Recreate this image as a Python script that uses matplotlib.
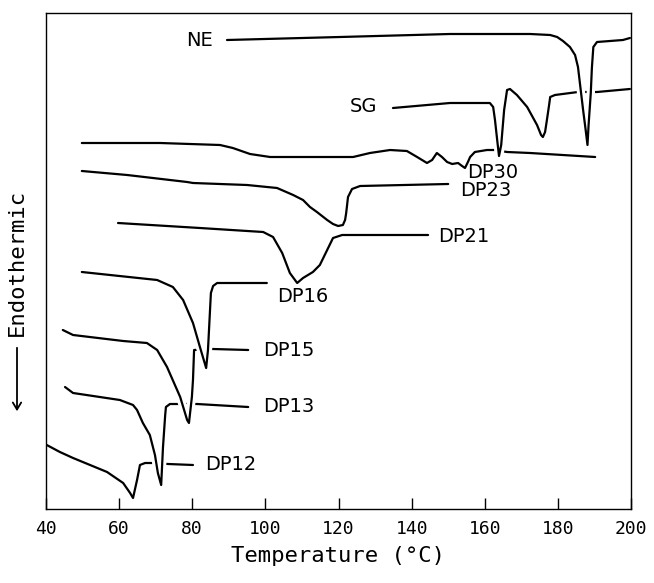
import matplotlib
matplotlib.use("Agg")
import matplotlib.pyplot as plt
import matplotlib.patheffects as pe

# DSC traces: temperature (C) and signal (arb. units, down = endothermic)
ne_t = [89.5, 120.4, 150.5, 172.4, 177.9, 179.8, 181.4, 183.3, 184.7, 185.5, 186.9, 187.6, 188.1,
        188.4, 189.0, 189.3, 189.7, 190.7, 197.8, 199.7]
ne_y = [469, 472, 475, 475, 474, 472, 468, 462, 454, 442, 399, 379, 364,
        384, 416, 441, 462, 467, 469, 471]

sg_t = [134.9, 150.5, 161.4, 162.3, 162.8, 163.4, 163.9, 164.5, 165.3, 166.1, 166.9, 168.8, 171.6,
        174.3, 175.4, 175.9, 176.5, 177.0, 177.6, 177.9, 179.2, 185.5, 190.7, 199.7]
sg_y = [401, 406, 406, 402, 389, 369, 353, 364, 399, 419, 420, 414, 402,
        384, 374, 372, 377, 389, 404, 412, 414, 417, 417, 420]

dp30_t = [49.8, 71.2, 87.6, 91.1, 95.8, 101.3, 117.7, 124.0, 128.6, 134.1, 138.7, 141.5, 144.2,
          145.6, 146.9, 148.3, 149.7, 151.1, 152.7, 153.8, 154.6, 155.4, 156.0, 157.3, 160.6,
          162.8, 166.1, 172.4, 190.2]
dp30_y = [366, 366, 364, 361, 355, 352, 352, 352, 356, 359, 358, 352, 346,
          349, 356, 352, 347, 345, 346, 343, 341, 347, 352, 357, 359,
          359, 357, 356, 352]

dp23_t = [49.8, 62.2, 78.6, 80.2, 95.0, 103.2, 107.6, 110.3, 112.2, 114.1, 116.9, 118.5, 119.9,
          121.2, 121.8, 122.1, 122.6, 123.7, 125.9, 150.0]
dp23_y = [338, 334, 327, 326, 324, 321, 314, 309, 302, 297, 289, 285, 283,
          284, 289, 296, 312, 320, 323, 325]

dp21_t = [59.7, 82.1, 99.4, 102.1, 104.6, 106.7, 108.7, 110.3, 113.0, 114.9, 116.9, 118.5, 121.0, 144.5]
dp21_y = [286, 281, 277, 272, 256, 236, 226, 231, 237, 244, 259, 271, 274, 274]

dp16_t = [49.8, 70.4, 74.7, 77.5, 80.2, 82.1, 83.8, 84.3, 85.1, 85.7, 86.8, 100.4]
dp16_y = [237, 229, 222, 209, 186, 162, 141, 159, 216, 223, 226, 226]

dp15_t = [44.6, 47.4, 61.1, 67.6, 70.4, 73.1, 76.7, 78.6, 79.1, 79.9, 80.2, 80.5, 85.7, 95.3]
dp15_y = [179, 174, 168, 166, 159, 142, 112, 89, 86, 112, 129, 159, 160, 159]

dp13_t = [45.2, 47.4, 60.2, 63.8, 64.9, 66.5, 68.4, 69.8, 70.6, 71.5, 72.0, 72.6, 72.8, 73.9,
          76.7, 81.3, 95.3]
dp13_y = [122, 116, 109, 104, 99, 86, 74, 54, 36, 24, 62, 94, 102, 105,
          105, 105, 102]

dp12_t = [40.2, 43.8, 47.4, 56.7, 61.1, 63.0, 63.8, 64.9, 65.7, 67.1, 69.3, 73.4, 80.2]
dp12_y = [64, 57, 51, 37, 26, 16, 11, 29, 44, 46, 46, 45, 44]

# drawn bottom to top, so upper traces cut the lower ones like the pen gaps in the original
traces = [
    ("DP12", dp12_t, dp12_y),
    ("DP13", dp13_t, dp13_y),
    ("DP15", dp15_t, dp15_y),
    ("DP16", dp16_t, dp16_y),
    ("DP21", dp21_t, dp21_y),
    ("DP23", dp23_t, dp23_y),
    ("DP30", dp30_t, dp30_y),
    ("SG", sg_t, sg_y),
    ("NE", ne_t, ne_y),
]

# where each trace name sits (left edge, centre)
label_pos = {
    "NE": (78.3, 468), "SG": (123.1, 402), "DP30": (155.1, 336), "DP23": (153.2, 319),
    "DP21": (147.2, 273), "DP16": (103.2, 212), "DP15": (99.4, 159), "DP13": (99.4, 102),
    "DP12": (83.5, 44),
}

x_ticks = [40, 60, 80, 100, 120, 140, 160, 180, 200]

fig = plt.figure(figsize=(6.54, 5.83), dpi=100)
ax = fig.add_axes([46 / 654, 1 - 509 / 583, (631 - 46) / 654, (509 - 13) / 583])

for name, t, y in traces:
    ax.plot(t, y, color="black", lw=1.6, solid_capstyle="round", solid_joinstyle="round",
            path_effects=[pe.Stroke(linewidth=6, foreground="white"), pe.Normal()])
    lx, ly = label_pos[name]
    ax.text(lx, ly, name, fontsize=14, ha="left", va="center", family="DejaVu Sans")

ax.set_xlim(40, 200)
ax.set_ylim(0, 496)
ax.set_xticks(x_ticks)
ax.set_yticks([])
ax.tick_params(axis="x", direction="in", length=8, width=1, labelsize=13, pad=8)
for lab in ax.get_xticklabels():
    lab.set_family("DejaVu Sans Mono")
for sp in ax.spines.values():
    sp.set_linewidth(1.0)

fig.text(338 / 654, 1 - 556 / 583, "Temperature (°C)", ha="center", va="center",
         fontsize=16, family="DejaVu Sans Mono")
fig.text(17 / 654, 1 - 262 / 583, "Endothermic", ha="center", va="center",
         rotation=90, fontsize=16, family="DejaVu Sans Mono")
# long arrow under the y label, pointing down
fig.add_artist(matplotlib.patches.FancyArrowPatch(
    (17 / 654, 1 - 345 / 583), (17 / 654, 1 - 414 / 583), transform=fig.transFigure,
    arrowstyle="->,head_length=5,head_width=3", lw=1.3, color="black"))

fig.savefig("out.png", dpi=100)
